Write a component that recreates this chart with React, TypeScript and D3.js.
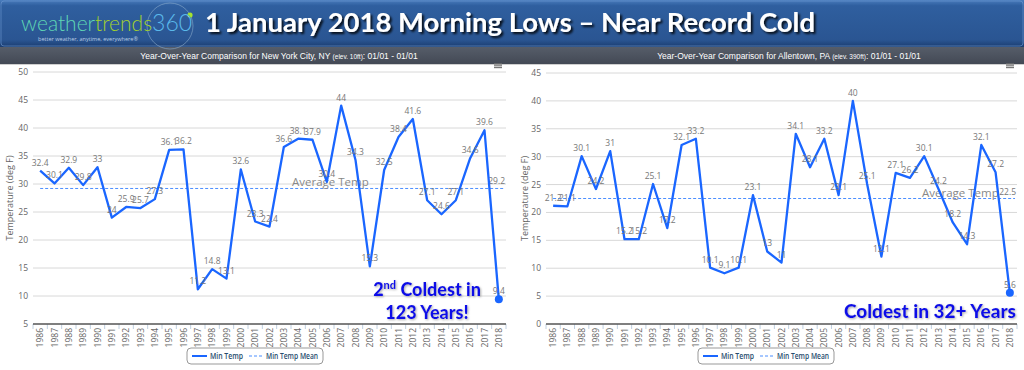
import React from "react";
import * as d3 from "d3";

const years = ["1986","1987","1988","1989","1990","1991","1992","1993","1994","1995","1996","1997","1998","1999","2000","2001","2002","2003","2004","2005","2006","2007","2008","2009","2010","2011","2012","2013","2014","2015","2016","2017","2018"];
const nycMinTemp = [32.4,30.1,32.9,29.8,33,24,25.9,25.7,27.3,36.1,36.2,11.2,14.8,13.1,32.6,23.3,22.4,36.6,38.1,37.9,30.4,44,34.3,15.3,32.5,38.4,41.6,27.1,24.6,27.1,34.6,39.6,9.4];
const nycMean = 29.2;
const abeMinTemp = [21.2,21.1,30.1,24.2,31,15.2,15.2,25.1,17.2,32.1,33.2,10.1,9.1,10.1,23.1,13,11,34.1,28.1,33.2,23.1,40,25.1,12.1,27.1,26.2,30.1,24.2,18.2,14.3,32.1,27.2,5.6];
const abeMean = 22.5;
const nycTicks = [5,10,15,20,25,30,35,40,45,50];
const abeTicks = [0,5,10,15,20,25,30,35,40,45];

const BLUE = "#1a66ff";
const LABEL_FONT = "'Open Sans', 'DejaVu Sans', sans-serif";

type ChartProps = {
  values: number[];
  mean: number;
  ticks: number[];
  x0: number; x1: number;
  yTop: number; yBottom: number;
  avgLabelX: number;
  titleX: number;
  legendX: number;
  menuX: number;
  annotation: React.ReactNode;
};

function Chart(p: ChartProps) {
  const x = d3.scaleBand<string>().domain(years).range([p.x0, p.x1]);
  const y = d3.scaleLinear().domain([p.ticks[0], p.ticks[p.ticks.length - 1]]).range([p.yBottom, p.yTop]);
  const cx = (yr: string) => (x(yr) as number) + x.bandwidth() / 2;
  const line = d3.line<number>().x((_, i) => cx(years[i])).y((v) => y(v));
  const last = p.values.length - 1;
  const meanY = y(p.mean);
  const lx = p.legendX;
  return (
    <g>
      <text transform={`translate(${p.titleX},${(p.yTop + p.yBottom) / 2}) rotate(-90)`} textAnchor="middle"
        fontFamily={LABEL_FONT} fontSize={9} fill="#666">Temperature (deg F)</text>
      {p.ticks.map((t) => (
        <g key={t}>
          {t !== p.ticks[0] && (
            <line x1={p.x0} x2={p.x1} y1={y(t)} y2={y(t)} stroke="#d8d8d8" strokeWidth={1} />
          )}
          <text x={p.x0 - 5} y={y(t) + 3} textAnchor="end" fontFamily={LABEL_FONT} fontSize={8.5} fill="#666">{t}</text>
        </g>
      ))}
      {years.map((yr) => (
        <g key={yr}>
          <line x1={(x(yr) as number)} x2={(x(yr) as number)} y1={p.yBottom} y2={p.yBottom + 5} stroke="#c0d0e0" />
          <text transform={`translate(${cx(yr) + 3},${p.yBottom + 4}) rotate(-90)`} textAnchor="end"
            fontFamily={LABEL_FONT} fontSize={8.5} fill="#666">{yr}</text>
        </g>
      ))}
      <line x1={p.x1} x2={p.x1} y1={p.yBottom} y2={p.yBottom + 5} stroke="#c0d0e0" />
      <line x1={p.x0} x2={p.x1} y1={p.yBottom} y2={p.yBottom} stroke="#555" strokeWidth={1.5} />
      <line x1={cx(years[0])} x2={p.x1 - 2} y1={meanY} y2={meanY} stroke="#4d8fff" strokeWidth={1} strokeDasharray="3,2" />
      <text x={p.avgLabelX} y={meanY - 2} fontFamily={LABEL_FONT} fontSize={11.5} fill="#888">Average Temp</text>
      <text x={p.x1 - 1} y={meanY - 4} textAnchor="end" fontFamily={LABEL_FONT} fontSize={8.5} fill="#777">{p.mean}</text>
      <path d={line(p.values) || ""} fill="none" stroke={BLUE} strokeWidth={2.3} strokeLinejoin="round" />
      <circle cx={cx(years[last])} cy={y(p.values[last])} r={4} fill={BLUE} />
      {p.values.map((v, i) => (
        <text key={i} x={cx(years[i])} y={y(v) - 5} textAnchor="middle" fontFamily={LABEL_FONT} fontSize={8.5} fill="#777">{v}</text>
      ))}
      <rect x={lx} y={348} width={136} height={16} rx={4} fill="#fff" stroke="#999" strokeWidth={1} />
      <line x1={lx + 5} x2={lx + 20} y1={356} y2={356} stroke={BLUE} strokeWidth={2} />
      <text x={lx + 23} y={359} fontFamily={LABEL_FONT} fontSize={8.5} fontWeight={600} fill="#274b6d"
        textLength={33} lengthAdjust="spacingAndGlyphs">Min Temp</text>
      <line x1={lx + 62} x2={lx + 76} y1={356} y2={356} stroke="#4d8fff" strokeWidth={1} strokeDasharray="3,2" />
      <text x={lx + 79} y={359} fontFamily={LABEL_FONT} fontSize={8.5} fontWeight={600} fill="#274b6d"
        textLength={52} lengthAdjust="spacingAndGlyphs">Min Temp Mean</text>
      {[0, 3, 6].map((d) => (
        <line key={d} x1={p.menuX} x2={p.menuX + 8} y1={64 + d * 0.6} y2={64 + d * 0.6} stroke="#777" strokeWidth={1.2} />
      ))}
      {p.annotation}
    </g>
  );
}

export default function App() {
  const annoStyle = { fontFamily: "Lato, 'Open Sans', sans-serif", fontWeight: 900 as any };
  return (
    <svg width={1024} height={370} style={{ position: "absolute", left: 0, top: 0 }}>
      <defs>
        <linearGradient id="banner" x1="0" y1="0" x2="0" y2="1">
          <stop offset="0" stopColor="#4a7dbd" />
          <stop offset="0.12" stopColor="#2f5f9f" />
          <stop offset="0.85" stopColor="#2a5592" />
          <stop offset="1" stopColor="#1b3d70" />
        </linearGradient>
        <linearGradient id="band" x1="0" y1="0" x2="0" y2="1">
          <stop offset="0" stopColor="#565d69" />
          <stop offset="1" stopColor="#434955" />
        </linearGradient>
        <filter id="tshadow" x="-5%" y="-20%" width="110%" height="150%">
          <feDropShadow dx="2" dy="2" stdDeviation="1" floodColor="#000" floodOpacity="0.85" />
        </filter>
        <filter id="ashadow" x="-5%" y="-20%" width="110%" height="150%">
          <feDropShadow dx="1" dy="1" stdDeviation="0.8" floodColor="#999" floodOpacity="0.8" />
        </filter>
      </defs>
      <rect x={0} y={0} width={1024} height={370} fill="#fff" />
      <rect x={0} y={0} width={1024} height={47} fill="url(#banner)" />
      <rect x={1} y={1} width={1022} height={45} fill="none" stroke="#6f9bd3" strokeOpacity={0.6} rx={3} />
      <rect x={0} y={47} width={1024} height={17} fill="url(#band)" />
      <line x1={0} x2={1024} y1={64.5} y2={64.5} stroke="#cfcfcf" />
      <circle cx={170} cy={26} r={23} fill="none" stroke="#8fb0cf" strokeOpacity={0.7} strokeWidth={0.8} />
      <circle cx={190} cy={15} r={2.6} fill="#a6e22e" />
      <text x={21} y={31} fontFamily="Lato, 'Open Sans', sans-serif" fontSize={21} fontWeight={300}>
        <tspan fill="#5fd6b4">weather</tspan><tspan fill="#a2d12e">trends</tspan><tspan fill="#5ab8ea" fontSize={23}>360</tspan>
      </text>
      <text x={38} y={41} fontFamily="'Open Sans', sans-serif" fontSize={5.5} fill="#b9cbe2" textLength={100}>better weather, anytime, everywhere®</text>
      <text x={510} y={32} textAnchor="middle" fontFamily="Lato, 'Open Sans', sans-serif" fontWeight="bold" fontSize={27}
        fill="#fff" filter="url(#tshadow)" textLength={610} lengthAdjust="spacingAndGlyphs">1 January 2018 Morning Lows – Near Record Cold</text>
      <text x={279} y={59} textAnchor="middle" fontFamily="'Liberation Sans', Arial, sans-serif" fontSize={8.5} fill="#fff">
        Year-Over-Year Comparison for New York City, NY <tspan fontSize={6.5}>(elev. 10ft)</tspan>: 01/01 - 01/01
      </text>
      <text x={789} y={59} textAnchor="middle" fontFamily="'Liberation Sans', Arial, sans-serif" fontSize={8.5} fill="#fff">
        Year-Over-Year Comparison for Allentown, PA <tspan fontSize={6.5}>(elev. 390ft)</tspan>: 01/01 - 01/01
      </text>
      <Chart values={nycMinTemp} mean={nycMean} ticks={nycTicks} x0={33} x1={506} yTop={72} yBottom={324}
        avgLabelX={292} titleX={13} legendX={187} menuX={494}
        annotation={
          <g filter="url(#ashadow)">
            <text x={427} y={296} textAnchor="middle" fontSize={18} fill="#0c0ce8" style={annoStyle}>
              2<tspan fontSize={11} dy={-7}>nd</tspan><tspan dy={7}> Coldest in</tspan>
            </text>
            <text x={427} y={319} textAnchor="middle" fontSize={18} fill="#0c0ce8" style={annoStyle}>123 Years!</text>
          </g>
        } />
      <Chart values={abeMinTemp} mean={abeMean} ticks={abeTicks} x0={546} x1={1017} yTop={73} yBottom={324}
        avgLabelX={922} titleX={528} legendX={698} menuX={1006}
        annotation={
          <g filter="url(#ashadow)">
            <text x={1016} y={318} textAnchor="end" fontSize={19} fill="#0c0ce8" style={annoStyle}>Coldest in 32+ Years</text>
          </g>
        } />
    </svg>
  );
}
